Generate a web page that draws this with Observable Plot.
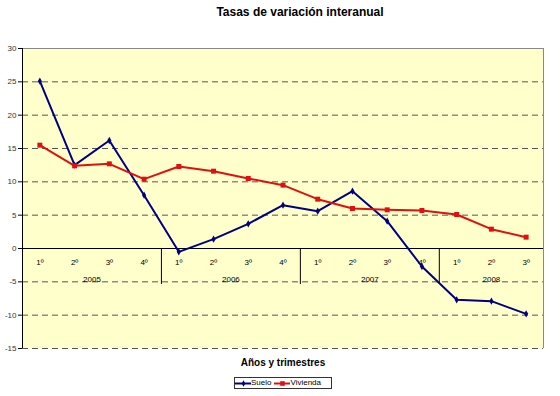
<!DOCTYPE html>
<html><head><meta charset="utf-8">
<script src="https://cdn.jsdelivr.net/npm/d3@7"></script>
<script src="https://cdn.jsdelivr.net/npm/@observablehq/plot@0.6"></script>
<style>
body{margin:0;background:#fff;font-family:"Liberation Sans",Arial,sans-serif}
#wrap{position:relative;width:560px;height:396px}
#wrap svg{position:absolute;left:0;top:0}
.title{position:absolute;left:0;width:600px;top:5px;text-align:center;font-weight:bold;font-size:12px;color:#000}
.xtitle{position:absolute;left:0;width:566px;top:357px;text-align:center;font-weight:bold;font-size:10px;color:#000}
.legend{position:absolute;left:234px;top:377px;width:96px;height:10px;border:1px solid #333;background:#fff;font-size:8px;line-height:10px;display:flex;align-items:center;white-space:nowrap}
.legend svg{position:static !important;display:block}
.legend span{margin-right:3px}
</style></head>
<body><div id="wrap"></div>
<script>
const years = ["2005", "2006", "2007", "2008"];
const quarterLabels = ["1º", "2º", "3º", "4º"];
const periodYears = ["2005","2005","2005","2005","2006","2006","2006","2006","2007","2007","2007","2007","2008","2008","2008"];
const periodQuarters = ["1º","2º","3º","4º","1º","2º","3º","4º","1º","2º","3º","4º","1º","2º","3º"];
const suelo = [25.1, 12.5, 16.2, 8.0, -0.5, 1.4, 3.7, 6.5, 5.6, 8.6, 4.1, -2.7, -7.7, -7.9, -9.8];
const vivienda = [15.5, 12.4, 12.7, 10.4, 12.3, 11.6, 10.5, 9.5, 7.4, 6.0, 5.8, 5.7, 5.1, 2.9, 1.7];
const yTicks = [-15, -10, -5, 0, 5, 10, 15, 20, 25, 30];
const seriesNames = ["Suelo", "Vivienda"];
const colors = {Suelo: "#000080", Vivienda: "#E01010"};

const periods = periodYears.map((y, i) => ({i, year: y, q: periodQuarters[i]}));
const xDomain = [-0.5, periods.length - 0.5];
const yDomain = [d3.min(yTicks), d3.max(yTicks)];
const sueloData = suelo.map((v, i) => ({i, v}));
const viviendaData = vivienda.map((v, i) => ({i, v}));
const yearGroups = years.map(y => {
  const idx = periods.filter(p => p.year === y).map(p => p.i);
  return {year: y, center: d3.mean(idx), start: d3.min(idx) - 0.5};
});
const separators = yearGroups.slice(1).map(g => g.start);

const chart = Plot.plot({
  width: 560, height: 396,
  marginLeft: 22, marginRight: 17, marginTop: 48, marginBottom: 48,
  style: {fontFamily: '"Liberation Sans", Arial, sans-serif', background: "transparent"},
  x: {type: "linear", domain: xDomain, axis: null},
  y: {domain: yDomain, axis: null},
  marks: [
    Plot.frame({fill: "#FFFFCC", stroke: null}),
    Plot.gridY(yTicks.filter(t => t !== 0 && t !== yDomain[1]), {stroke: "#555", strokeOpacity: 1, strokeDasharray: "6,4", strokeWidth: 1}),
    Plot.ruleY([yDomain[1]], {stroke: "#888"}),
    Plot.ruleX([xDomain[1]], {stroke: "#888"}),
    Plot.ruleY([0], {stroke: "#000"}),
    Plot.ruleX(separators, {y1: 0, y2: 0, insetBottom: -36, stroke: "#000"}),
    Plot.ruleX([xDomain[0]], {stroke: "#000"}),
    Plot.axisY(yTicks, {tickSize: 4, tickPadding: 2, fontSize: 8, color: "#333", stroke: "#000", label: null, tickFormat: d => String(d)}),
    Plot.text(periods, {x: "i", y: () => 0, text: "q", dy: 14, fontSize: 8, fill: "#000"}),
    Plot.text(yearGroups, {x: "center", y: () => 0, text: "year", dy: 31, fontSize: 8, fill: "#000"}),
    Plot.line(sueloData, {x: "i", y: "v", stroke: colors.Suelo, strokeWidth: 2}),
    Plot.dot(sueloData, {x: "i", y: "v", symbol: "diamond", r: 2.2, fill: colors.Suelo, stroke: null}),
    Plot.line(viviendaData, {x: "i", y: "v", stroke: colors.Vivienda, strokeWidth: 2}),
    Plot.dot(viviendaData, {x: "i", y: "v", symbol: "square", r: 2.8, fill: colors.Vivienda, stroke: null})
  ]
});
const wrap = document.getElementById("wrap");
wrap.appendChild(chart);

const title = document.createElement("div");
title.className = "title";
title.textContent = "Tasas de variación interanual";
wrap.appendChild(title);

const xt = document.createElement("div");
xt.className = "xtitle";
xt.textContent = "Años y trimestres";
wrap.appendChild(xt);

const legend = document.createElement("div");
legend.className = "legend";
seriesNames.forEach(name => {
  const sym = name === "Suelo" ? "diamond" : "square";
  const icon = Plot.plot({
    width: 16, height: 10, margin: 0,
    x: {domain: [0, 1], axis: null}, y: {domain: [0, 1], axis: null},
    style: {background: "transparent"},
    marks: [
      Plot.ruleY([0.5], {stroke: colors[name], strokeWidth: 2}),
      Plot.dot([0.5], {x: d => d, y: d => d, symbol: sym, r: name === "Suelo" ? 2 : 2.6, fill: colors[name]})
    ]
  });
  legend.appendChild(icon);
  const s = document.createElement("span");
  s.textContent = name;
  legend.appendChild(s);
});
wrap.appendChild(legend);
</script>
</body></html>
